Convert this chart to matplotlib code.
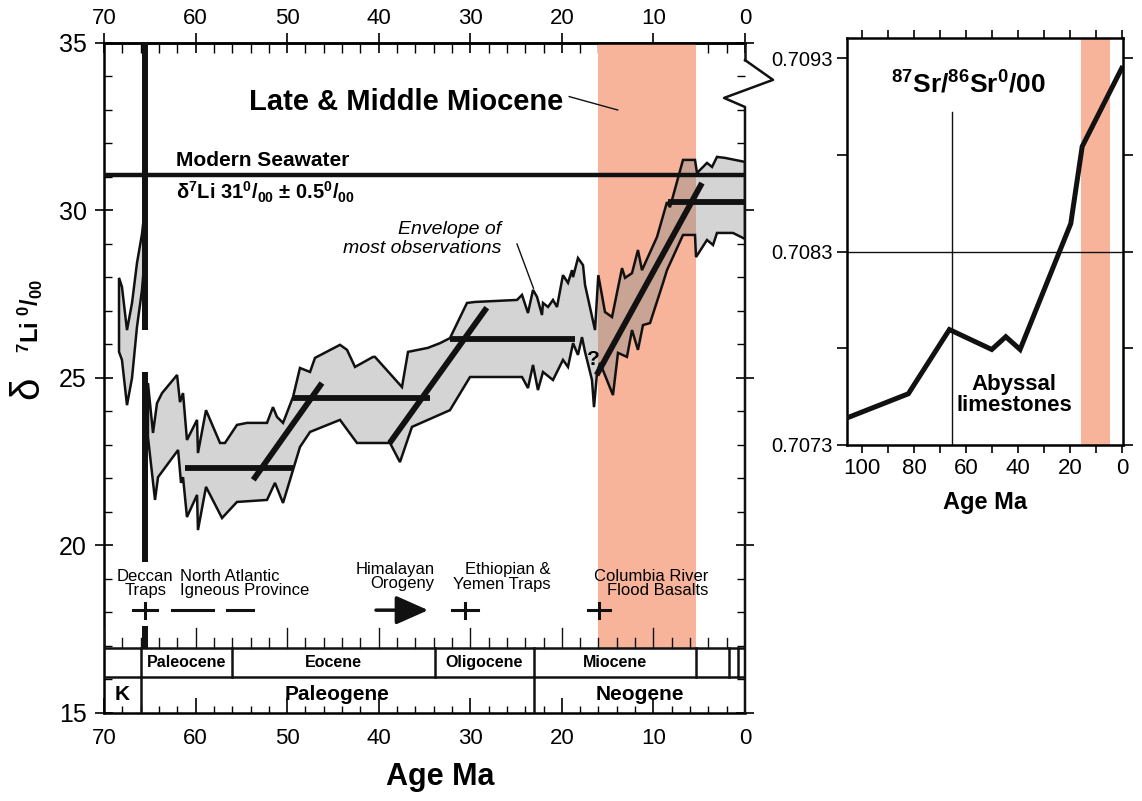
import numpy as np
import matplotlib
matplotlib.use("Agg")
import matplotlib.pyplot as plt
from matplotlib.ticker import MultipleLocator, FixedLocator

plt.rcParams['font.family'] = ['Liberation Sans', 'DejaVu Sans']
plt.rcParams['mathtext.default'] = 'regular'

# --- Li isotope envelope (age Ma, d7Li permil) ---
pre_kpg_age = [68.36, 68.04, 67.49, 66.94, 66.40, 65.85, 65.50]
pre_kpg_upper = [27.99, 27.72, 26.43, 27.24, 28.43, 29.30, 30.16]
pre_kpg_lower = [25.78, 25.54, 24.19, 25.00, 26.52, 27.63, 28.82]

env_upper_age = [65.20, 64.65, 64.21, 63.66, 62.02, 61.70, 61.37, 60.94, 59.84, 59.74,
                 58.86, 57.33, 56.79, 55.48, 54.38, 52.20, 51.55, 51.11, 50.45, 49.36,
                 48.60, 47.50, 46.96, 44.23, 43.46, 42.59, 40.62, 40.41, 37.46, 36.80,
                 34.62, 33.31, 32.22, 30.36, 29.49, 24.90, 24.35, 23.70, 23.15, 22.71,
                 22.17, 22.06, 21.51, 20.97, 20.53, 19.88, 19.33, 18.89, 18.78, 18.24,
                 17.69, 17.47, 16.38, 16.02, 15.29, 14.52, 13.43, 13.10, 12.34, 11.69,
                 11.25, 9.61, 8.52, 8.19, 6.77, 5.46, 5.24, 4.15, 3.60, 3.06,
                 2.18, 0.00]
env_upper = [24.85, 23.36, 24.25, 24.55, 25.09, 24.28, 24.55, 23.15, 23.75, 22.76,
             24.04, 23.06, 23.06, 23.60, 23.66, 23.66, 24.13, 23.84, 23.66, 24.43,
             25.30, 25.18, 25.60, 25.99, 25.84, 25.33, 25.63, 25.63, 24.73, 25.78,
             25.90, 26.04, 26.19, 27.24, 27.27, 27.33, 27.48, 26.94, 27.63, 27.42,
             26.88, 27.24, 27.12, 27.33, 27.12, 28.07, 27.84, 28.22, 28.01, 28.58,
             28.37, 27.78, 26.43, 28.07, 26.97, 26.82, 28.28, 27.99, 28.13, 28.82,
             28.22, 29.21, 30.25, 30.10, 31.51, 31.51, 31.12, 31.42, 31.30, 31.60,
             31.57, 31.45]

env_lower_age = [65.20, 64.43, 64.10, 61.91, 61.59, 61.37, 60.94, 59.84, 59.74, 58.86,
                 57.11, 55.48, 52.20, 51.33, 50.45, 48.60, 47.50, 44.23, 42.37, 40.62,
                 38.77, 37.68, 36.37, 32.22, 30.03, 24.35, 23.70, 23.15, 22.61, 22.06,
                 20.97, 19.88, 19.33, 18.78, 18.24, 17.80, 17.47, 17.25, 16.71, 16.49,
                 16.16, 15.83, 14.42, 13.87, 12.89, 12.34, 11.69, 11.14, 10.37, 8.95,
                 8.52, 6.77, 5.46, 5.35, 4.15, 3.49, 3.06, 1.31, 0.00]
env_lower = [23.24, 21.36, 22.04, 22.85, 21.87, 22.04, 20.85, 21.51, 20.46, 21.75,
             20.82, 21.30, 21.36, 21.87, 21.27, 22.94, 23.39, 23.75, 23.06, 23.06,
             23.06, 22.49, 23.54, 24.04, 25.03, 25.03, 24.70, 25.39, 24.64, 25.18,
             24.94, 25.54, 25.33, 26.04, 25.69, 26.22, 25.78, 25.54, 24.94, 24.13,
             25.15, 25.45, 24.49, 25.75, 25.63, 26.43, 25.84, 26.58, 26.64, 27.84,
             28.22, 29.27, 29.27, 28.61, 29.12, 28.97, 29.33, 29.33, 29.15]

# mean trend segments (start/end age, start/end value)
trend_age = [(61.2, 49.4), (53.7, 46.2), (49.4, 34.4), (38.8, 28.2),
             (32.2, 18.6), (16.2, 4.7), (8.4, 0.0)]
trend_val = [(22.31, 22.31), (21.96, 24.85), (24.40, 24.40), (23.06, 27.10),
             (26.16, 26.16), (25.09, 30.82), (30.25, 30.25)]

seawater = 31.05
kpg_age = 65.5
kpg_segments = [(35.0, 26.43), (25.18, 19.51), (17.6, 16.94)]
miocene_band = (16.0, 5.4)

# geologic time scale
epoch_bounds = [66.0, 56.0, 33.9, 23.0, 5.3, 1.8, 0.8]
epoch_names = ['Paleocene', 'Eocene', 'Oligocene', 'Miocene']
epoch_centers = [61.0, 44.9, 28.45, 14.15]
period_bounds = [66.0, 23.0]
period_names = ['K', 'Paleogene', 'Neogene']
period_centers = [68.0, 44.5, 11.5]
scale_top, scale_mid = 16.94, 16.07

# Sr isotope curve
sr_age = [105.8, 82.2, 66.4, 50.1, 44.7, 39.2, 19.7, 15.3, 0.1]
sr_val = [0.70744, 0.707565, 0.707897, 0.707794, 0.70786, 0.707794, 0.708445, 0.708844, 0.709248]

W, H = 1142, 801
fig = plt.figure(figsize=(W / 100, H / 100), dpi=100)
ink = '#111111'


def px_axes(x0, y0, x1, y1):
    return fig.add_axes([x0 / W, 1 - y1 / H, (x1 - x0) / W, (y1 - y0) / H])


ax = px_axes(104, 43, 745, 713)
ax.set_xlim(70, 0)
ax.set_ylim(15, 35)

orange = '#F7B49B'
band = ax.axvspan(*miocene_band, ymin=(scale_top - 15) / 20, ymax=1, color=orange, lw=0, zorder=1)

# envelope
polys = [
    (np.r_[pre_kpg_age, pre_kpg_age[::-1]], np.r_[pre_kpg_upper, pre_kpg_lower[::-1]]),
    (np.r_[env_upper_age, env_lower_age[::-1]], np.r_[env_upper, env_lower[::-1]]),
]
for px, py in polys:
    ax.fill(px, py, fc='#D4D4D4', ec='none', zorder=2)
    brown = ax.fill(px, py, fc='#C9A393', ec='none', zorder=2.5)[0]
    brown.set_clip_path(band)
    ax.fill(px, py, fc='none', ec=ink, lw=1.8, zorder=3)

for (a0, a1), (v0, v1) in zip(trend_age, trend_val):
    ax.plot([a0, a1], [v0, v1], color=ink, lw=4.2, solid_capstyle='butt', zorder=4)

ax.axhline(seawater, color=ink, lw=3.2, zorder=4)
for y0, y1 in kpg_segments:
    ax.plot([kpg_age, kpg_age], [y0, y1], color=ink, lw=4.3, solid_capstyle='butt', zorder=5)

ax.text(16.5, 25.55, '?', fontsize=15, fontweight='bold', ha='center', va='center', zorder=6)

# timescale boxes
ax.axhline(scale_top, color=ink, lw=1.8, zorder=6)
ax.axhline(scale_mid, color=ink, lw=1.8, zorder=6)
for b in epoch_bounds:
    ax.plot([b, b], [scale_mid, scale_top], color=ink, lw=1.8, zorder=6)
for b in period_bounds:
    ax.plot([b, b], [15, scale_mid], color=ink, lw=1.8, zorder=6)
for name, c in zip(epoch_names, epoch_centers):
    ax.text(c, 16.5, name, fontsize=11.5, fontweight='bold', ha='center', va='center')
for name, c in zip(period_names, period_centers):
    ax.text(c, 15.55, name, fontsize=15, fontweight='bold', ha='center', va='center')
for a in range(0, 71, 2):
    ln = 0.6 if a % 10 == 0 else 0.3
    ax.plot([a, a], [scale_top, scale_top + ln], color=ink, lw=1.0, zorder=6)

# events
ev_y = 18.07
ax.plot([66.8, 64.2], [ev_y, ev_y], color=ink, lw=2.2)
ax.plot([kpg_age, kpg_age], [ev_y - 0.22, ev_y + 0.22], color=ink, lw=2.2)
ax.plot([62.6, 58.1], [ev_y, ev_y], color=ink, lw=2.2)
ax.plot([56.6, 53.7], [ev_y, ev_y], color=ink, lw=2.2)
ax.annotate('', xy=(34.6, ev_y), xytext=(40.3, ev_y),
            arrowprops=dict(arrowstyle='-|>,head_length=0.9,head_width=0.4', lw=2.5,
                            color=ink, mutation_scale=22, shrinkA=0, shrinkB=0))
for c, half in [(30.6, 1.4), (15.9, 1.2)]:
    ax.plot([c + half, c - half], [ev_y, ev_y], color=ink, lw=2.2)
    ax.plot([c, c], [ev_y - 0.22, ev_y + 0.22], color=ink, lw=2.2)

ev_fs = 12
ax.text(kpg_age, 18.86, 'Deccan\nTraps', fontsize=ev_fs, ha='center', va='center', linespacing=0.95)
ax.text(61.7, 18.86, 'North Atlantic\nIgneous Province', fontsize=ev_fs, ha='left', va='center',
        linespacing=0.95)
ax.text(33.9, 19.08, 'Himalayan\nOrogeny', fontsize=ev_fs, ha='right', va='center',
        multialignment='right', linespacing=0.95)
ax.text(21.2, 19.06, 'Ethiopian &\nYemen Traps', fontsize=ev_fs, ha='right', va='center',
        multialignment='right', linespacing=0.95)
ax.text(4.0, 18.86, 'Columbia River\nFlood Basalts', fontsize=ev_fs, ha='right', va='center',
        multialignment='right', linespacing=0.95)

# annotations
ax.text(37.0, 33.25, 'Late & Middle Miocene', fontsize=21, fontweight='bold', ha='center', va='center')
ax.plot([19.2, 13.9], [33.40, 33.0], color=ink, lw=1.0)
ax.text(62.1, 31.48, 'Modern Seawater', fontsize=15, fontweight='bold', ha='left', va='center')
ax.text(62.1, 30.55, 'δ$^{7}$Li 31$^{0}$/$_{00}$ ± 0.5$^{0}$/$_{00}$', fontsize=14.5,
        fontweight='bold', ha='left', va='center')
ax.text(26.6, 29.15, 'Envelope of\nmost observations', fontsize=14, style='italic',
        ha='right', va='center', multialignment='right', linespacing=1.15)
ax.plot([24.9, 23.1], [29.0, 27.68], color=ink, lw=1.0)

# axes styling
for s in ax.spines.values():
    s.set_linewidth(1.8)
ax.spines['right'].set_visible(False)
ax.plot([0, 0], [35, 34.49], color=ink, lw=1.8, clip_on=False, zorder=7)
ax.plot([0, -3.06, 2.29, 0, 0], [34.49, 33.9, 33.36, 33.09, 15], color=ink, lw=1.8,
        clip_on=False, zorder=7)

ax.xaxis.set_major_locator(MultipleLocator(10))
ax.xaxis.set_minor_locator(MultipleLocator(2))
ax.yaxis.set_major_locator(MultipleLocator(5))
ax.yaxis.set_minor_locator(MultipleLocator(1))
ax.tick_params(axis='x', which='major', direction='in', length=11, width=1.2, labelsize=16, pad=11)
ax.tick_params(axis='x', which='minor', direction='in', length=5, width=1.0)
ax.tick_params(axis='y', which='major', left=True, right=True, direction='inout', length=13,
               width=1.2, labelsize=18, pad=6)
ax.tick_params(axis='y', which='minor', left=True, right=True, direction='in', length=5.5, width=1.0)

top = ax.secondary_xaxis('top')
top.xaxis.set_major_locator(MultipleLocator(10))
top.xaxis.set_minor_locator(MultipleLocator(2))
top.tick_params(axis='x', which='major', direction='inout', length=14, width=1.2, labelsize=16, pad=3)
top.tick_params(axis='x', which='minor', direction='in', length=7, width=1.0)
top.spines['top'].set_linewidth(1.8)

ax.set_xlabel('Age Ma', fontsize=22, fontweight='bold', va='center')
ax.xaxis.set_label_coords(0.524, -0.096)

fig.text(27 / W, 1 - 388 / H, 'δ', fontsize=29, rotation=90, ha='center', va='center')
fig.text(30 / W, 1 - 316 / H, '$^{7}$Li $^{0}$/$_{00}$', fontsize=17, fontweight='bold',
         rotation=90, ha='center', va='center')

# --- Sr panel ---
ax2 = px_axes(847, 38, 1123, 445)
ax2.set_xlim(105.8, -0.4)
ax2.set_ylim(0.70730, 0.709405)
ax2.axvspan(15.8, 4.6, color=orange, lw=0, zorder=1)
ax2.axhline(0.7083, color=ink, lw=1.0, zorder=2)
ax2.plot([kpg_age, kpg_age], [0.70730, 0.70902], color=ink, lw=1.0, zorder=2)
ax2.plot(sr_age, sr_val, color=ink, lw=3.6, zorder=3, solid_joinstyle='miter')
ax2.text(59.0, 0.709162, '$^{87}$Sr/$^{86}$Sr$^{0}$/00', fontsize=19, fontweight='bold',
         ha='center', va='center')
ax2.text(41.5, 0.70756, 'Abyssal\nlimestones', fontsize=16, fontweight='bold',
         ha='center', va='center', linespacing=1.0)
for s in ax2.spines.values():
    s.set_linewidth(1.8)
ax2.yaxis.set_major_locator(FixedLocator([0.7073, 0.7083, 0.7093]))
ax2.yaxis.set_minor_locator(FixedLocator([0.7078, 0.7088]))
ax2.xaxis.set_major_locator(MultipleLocator(20))
ax2.xaxis.set_minor_locator(MultipleLocator(10))
ax2.tick_params(axis='y', which='both', left=True, right=True, direction='out', length=7,
                width=1.2, labelsize=14.5, pad=3)
ax2.tick_params(axis='x', which='both', bottom=True, top=True, direction='out', length=6,
                width=1.2, labelsize=16, pad=3)
ax2.set_xlabel('Age Ma', fontsize=17, fontweight='bold', labelpad=9)

fig.savefig('out.png', dpi=100)
